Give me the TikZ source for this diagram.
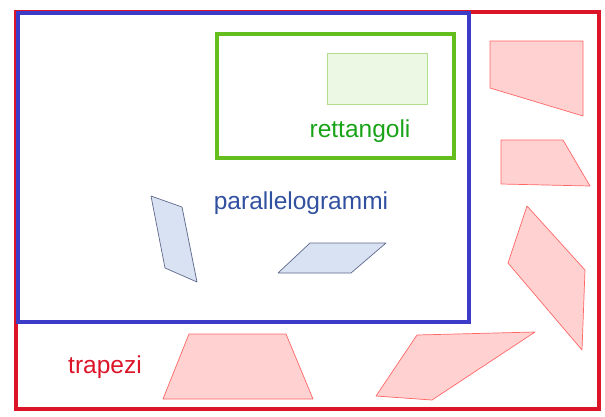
\documentclass[tikz,border=0pt]{standalone}
\usepackage{fontspec}
\setmainfont{Liberation Sans}

\definecolor{trapred}{RGB}{220,20,40}
\definecolor{parblue}{RGB}{60,60,200}
\definecolor{retgreen}{RGB}{100,190,30}
\definecolor{parfill}{RGB}{216,226,242}
\definecolor{parline}{RGB}{95,105,140}

\begin{document}
\begin{tikzpicture}[x=1pt,y=-1pt]

\tikzset{
    frame/.style={line width=3.1pt},
    trapezio/.style={draw=red!60!white, fill=red!18, line width=0.7pt, line join=round},
    parallelo/.style={draw=parline, fill=parfill, line width=0.7pt, line join=round},
    rettangolo/.style={draw=retgreen!50!white, fill=retgreen!12!white, line width=0.7pt},
    label/.style={font=\fontsize{24.5}{28}\selectfont}
}
\useasboundingbox (0,0) rectangle (605,416);

% insiemi
\draw[frame, draw=trapred] (16,12) rectangle (599,409);
\draw[frame, draw=parblue] (18,13) rectangle (469,322);
\draw[frame, draw=retgreen] (217,34) rectangle (454,158);

% rettangoli
\draw[rettangolo] (327,53) rectangle (427,104);

% parallelogrammi
\draw[parallelo] (151,196) -- (182,207) -- (197,282) -- (165,268) -- cycle;
\draw[parallelo] (310,243) -- (386,243) -- (351,273) -- (278,273) -- cycle;

% trapezi
\draw[trapezio] (490,41) -- (583,41) -- (583,116) -- (490,88) -- cycle;
\draw[trapezio] (501,140) -- (563,140) -- (590,186) -- (501,184) -- cycle;
\draw[trapezio] (527,206) -- (585,270) -- (582,350) -- (508,263) -- cycle;
\draw[trapezio] (417,335) -- (535,332) -- (432,400) -- (376,396) -- cycle;
\draw[trapezio] (189,334) -- (286,334) -- (313,399) -- (163,399) -- cycle;

% nomi
\node[label, text=green!60!black!90] (rettangoli) at (360,131) {rettangoli};
\node[label, text={rgb,255:red,50;green,80;blue,160}] (parallelogrammi) at (301,203) {parallelogrammi};
\node[label, text=trapred] (trapezi) at (105,367) {trapezi};

\end{tikzpicture}
\end{document}
